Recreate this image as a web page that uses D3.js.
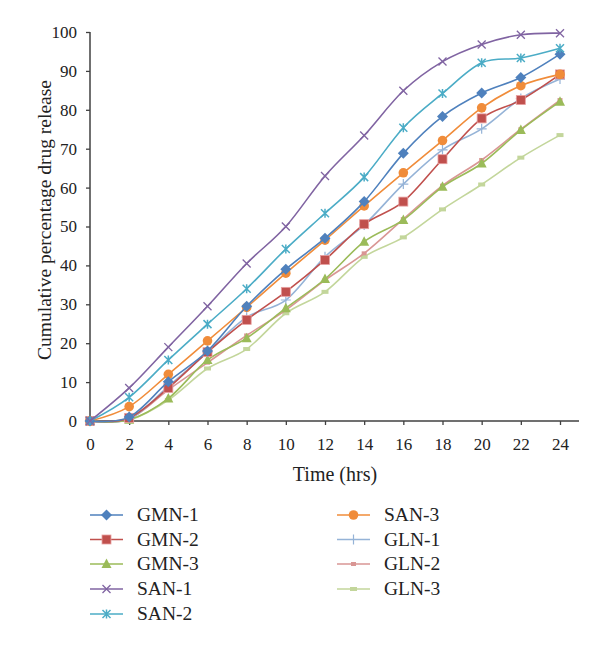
<!DOCTYPE html>
<html>
<head>
<meta charset="utf-8">
<script src="https://cdn.jsdelivr.net/npm/d3@7"></script>
<style>
  body { margin: 0; background: #fff; }
  text { font-family: "Liberation Serif", "DejaVu Serif", serif; fill: #222; }
</style>
</head>
<body>
<div id="chart"></div>
<script>
// Données
const hours = [0, 2, 4, 6, 8, 10, 12, 14, 16, 18, 20, 22, 24];
const gmn1 = [0, 1.0, 10.1, 18.0, 29.5, 39.0, 47.0, 56.4, 68.8, 78.3, 84.3, 88.3, 94.3];
const gmn2 = [0, 0.8, 8.5, 17.7, 26.0, 33.2, 41.4, 50.6, 56.4, 67.3, 77.8, 82.5, 89.1];
const gmn3 = [0, 0.3, 5.8, 15.7, 21.3, 29.0, 36.5, 46.1, 51.7, 60.2, 66.2, 74.8, 82.1];
const san1 = [0, 8.5, 19.0, 29.5, 40.5, 50.0, 63.0, 73.4, 84.9, 92.4, 96.8, 99.3, 99.7];
const san2 = [0, 6.1, 15.7, 24.9, 34.0, 44.2, 53.4, 62.7, 75.4, 84.2, 92.1, 93.3, 95.8];
const san3 = [0, 3.7, 12.0, 20.6, 29.2, 38.0, 46.5, 55.3, 63.8, 72.1, 80.5, 86.2, 89.1];
const gln1 = [0, 0.5, 8.9, 17.7, 26.7, 31.1, 42.2, 50.4, 60.9, 69.7, 75.1, 82.9, 87.9];
const gln2 = [0, 0.5, 8.0, 15.0, 22.0, 28.5, 36.2, 43.1, 51.9, 60.5, 67.1, 75.0, 82.5];
const gln3 = [0, 0.3, 5.4, 13.5, 18.5, 27.7, 33.2, 42.2, 47.2, 54.4, 60.8, 67.7, 73.5];
const seriesNames = ["GMN-1", "GMN-2", "GMN-3", "SAN-1", "SAN-2", "SAN-3", "GLN-1", "GLN-2", "GLN-3"];
const seriesValues = [gmn1, gmn2, gmn3, san1, san2, san3, gln1, gln2, gln3];
const yTicks = [0, 10, 20, 30, 40, 50, 60, 70, 80, 90, 100];
const xTicks = [0, 2, 4, 6, 8, 10, 12, 14, 16, 18, 20, 22, 24];

// Styles
const colors = ["#4F81BD", "#C0504D", "#9BBB59", "#8064A2", "#4BACC6", "#F08C3A", "#95B3D7", "#D99694", "#C3D69B"];
const markers = ["diamond", "square", "triangle", "x", "asterisk", "circle", "plus", "smallsq", "dash"];

const width = 600, height = 646;

const x = d3.scaleLinear().domain([0, 24]).range([90, 560]);
const y = d3.scaleLinear().domain([0, 100]).range([421, 32]);

const svg = d3.select("#chart").append("svg")
  .attr("width", width).attr("height", height);

// axes
const yAxis = svg.append("g")
  .attr("transform", "translate(90,0)")
  .call(d3.axisLeft(y).tickValues(yTicks).tickSize(4).tickPadding(9));
const xAxis = svg.append("g")
  .attr("transform", "translate(0,421)")
  .call(d3.axisBottom(x).tickValues(xTicks).tickSize(4).tickPadding(13));

[yAxis, xAxis].forEach(a => {
  a.select(".domain").remove();
  a.selectAll(".tick line").attr("stroke", "#404040").attr("stroke-width", 1.3);
  a.selectAll("text").style("font-size", "17px").attr("fill", "#222");
});
svg.append("line").attr("x1", 90).attr("x2", 90).attr("y1", 32).attr("y2", 421)
  .attr("stroke", "#404040").attr("stroke-width", 1.5);
svg.append("line").attr("x1", 90).attr("x2", 579).attr("y1", 421).attr("y2", 421)
  .attr("stroke", "#404040").attr("stroke-width", 1.5);

// titres des axes
svg.append("text")
  .attr("x", 335).attr("y", 481).attr("text-anchor", "middle")
  .style("font-size", "20px").text("Time (hrs)");
svg.append("text")
  .attr("transform", "translate(51,220) rotate(-90)")
  .attr("text-anchor", "middle")
  .style("font-size", "19.5px").text("Cumulative percentage drug release");

// dessin des marqueurs
function drawMarker(g, type, color, cx, cy) {
  if (type === "diamond") {
    g.append("path").attr("d", `M${cx},${cy - 5.5}L${cx + 5.5},${cy}L${cx},${cy + 5.5}L${cx - 5.5},${cy}Z`).attr("fill", color);
  } else if (type === "square") {
    g.append("rect").attr("x", cx - 4.5).attr("y", cy - 4.5).attr("width", 9).attr("height", 9)
      .attr("fill", color).attr("stroke", "#E8A0A0").attr("stroke-width", 0.8);
  } else if (type === "triangle") {
    g.append("path").attr("d", `M${cx},${cy - 5.5}L${cx + 5},${cy + 4}L${cx - 5},${cy + 4}Z`).attr("fill", color);
  } else if (type === "x") {
    g.append("path").attr("d", `M${cx - 4},${cy - 4}L${cx + 4},${cy + 4}M${cx - 4},${cy + 4}L${cx + 4},${cy - 4}`)
      .attr("stroke", color).attr("stroke-width", 1.3);
  } else if (type === "asterisk") {
    g.append("path").attr("d", `M${cx - 4},${cy - 4}L${cx + 4},${cy + 4}M${cx - 4},${cy + 4}L${cx + 4},${cy - 4}M${cx},${cy - 4.5}L${cx},${cy + 4.5}`)
      .attr("stroke", color).attr("stroke-width", 1.5);
  } else if (type === "circle") {
    g.append("circle").attr("cx", cx).attr("cy", cy).attr("r", 4.8).attr("fill", color);
  } else if (type === "plus") {
    g.append("path").attr("d", `M${cx - 5},${cy}L${cx + 5},${cy}M${cx},${cy - 5}L${cx},${cy + 5}`)
      .attr("stroke", color).attr("stroke-width", 1.2);
  } else if (type === "smallsq") {
    g.append("rect").attr("x", cx - 2.5).attr("y", cy - 2).attr("width", 5).attr("height", 4).attr("fill", color);
  } else if (type === "dash") {
    g.append("rect").attr("x", cx - 3.5).attr("y", cy - 2).attr("width", 7).attr("height", 4).attr("fill", color);
  }
}

const line = d3.line()
  .x((d, i) => x(hours[i]))
  .y(d => y(d))
  .curve(d3.curveCatmullRom.alpha(0));

// ordre de dessin : les séries claires en dessous
const order = [8, 7, 6, 2, 1, 5, 0, 4, 3];
order.forEach(k => {
  const g = svg.append("g");
  g.append("path").datum(seriesValues[k])
    .attr("d", line).attr("fill", "none")
    .attr("stroke", colors[k]).attr("stroke-width", 1.6);
  seriesValues[k].forEach((v, i) => drawMarker(g, markers[k], colors[k], x(hours[i]), y(v)));
});

// légende
const legendPos = [
  [90, 515], [90, 539.5], [90, 564], [90, 589], [90, 614],
  [337, 515], [337, 539.5], [337, 564], [337, 589]
];
seriesNames.forEach((name, k) => {
  const [lx, ly] = legendPos[k];
  const g = svg.append("g");
  g.append("line").attr("x1", lx).attr("x2", lx + 33).attr("y1", ly).attr("y2", ly)
    .attr("stroke", colors[k]).attr("stroke-width", 1.6);
  drawMarker(g, markers[k], colors[k], lx + 16.5, ly);
  g.append("text").attr("x", lx + 47).attr("y", ly + 6)
    .style("font-size", "19.5px").text(name);
});
</script>
</body>
</html>
